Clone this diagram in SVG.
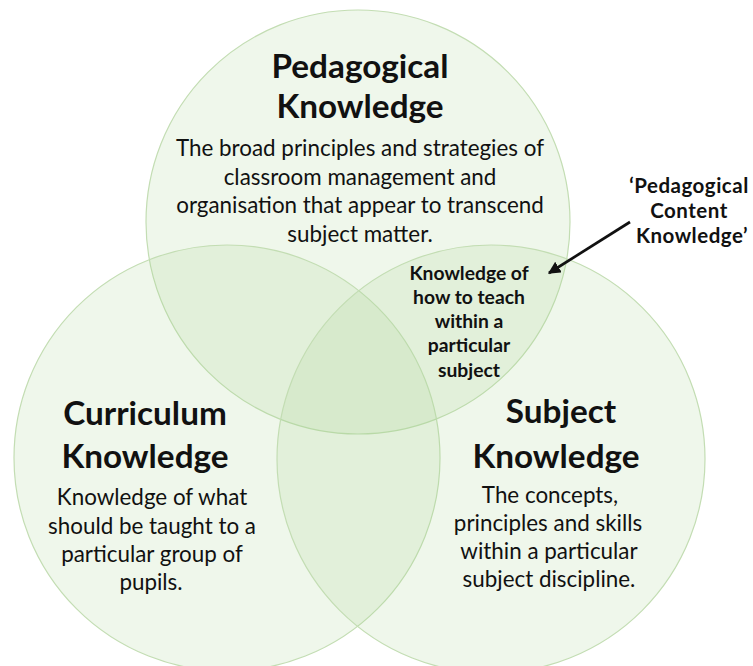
<svg xmlns="http://www.w3.org/2000/svg" width="753" height="666" viewBox="0 0 753 666">
  <style>
    .set { fill: #a9d18e; fill-opacity: 0.18; stroke: #c3ddb3; stroke-width: 1.2; }
    text { font-family: Lato, "Open Sans", sans-serif; fill: #111; text-anchor: middle; }
    .title { font-size: 33.3px; font-weight: bold; }
    .body { font-size: 22.4px; }
    .small { font-size: 19.3px; font-weight: bold; }
    .label { font-size: 20.5px; font-weight: bold; letter-spacing: 0.5px; }
    .link { stroke: #111; stroke-width: 2.7; fill: none; }
  </style>
  <defs>
    <marker id="head" viewBox="0 0 10 10" refX="9" refY="5" markerWidth="4.6" markerHeight="4.6" orient="auto" markerUnits="strokeWidth">
      <path d="M0,0 L10,5 L0,10 z" fill="#111"/>
    </marker>
  </defs>
  <rect width="753" height="666" fill="#ffffff"/>

  <g id="pedagogical">
    <circle class="set" cx="358" cy="222" r="212"/>
    <text class="title" x="360" y="78">Pedagogical</text>
    <text class="title" x="360" y="118">Knowledge</text>
    <text class="body" x="360" y="156">The broad principles and strategies of</text>
    <text class="body" x="360" y="185">classroom management and</text>
    <text class="body" x="360" y="213">organisation that appear to transcend</text>
    <text class="body" x="360" y="242">subject matter.</text>
  </g>

  <g id="curriculum">
    <circle class="set" cx="227" cy="458" r="213"/>
    <text class="title" x="145" y="425">Curriculum</text>
    <text class="title" x="145" y="468">Knowledge</text>
    <text class="body" x="152" y="505">Knowledge of what</text>
    <text class="body" x="152" y="534">should be taught to a</text>
    <text class="body" x="152" y="562">particular group of</text>
    <text class="body" x="151" y="590">pupils.</text>
  </g>

  <g id="subject">
    <circle class="set" cx="491" cy="459" r="214"/>
    <text class="title" x="561" y="423">Subject</text>
    <text class="title" x="556" y="468">Knowledge</text>
    <text class="body" x="550" y="503">The concepts,</text>
    <text class="body" x="548" y="531">principles and skills</text>
    <text class="body" x="549" y="559">within a particular</text>
    <text class="body" x="549" y="587">subject discipline.</text>
  </g>

  <g id="pck-region">
    <text class="small" x="469" y="280">Knowledge of</text>
    <text class="small" x="469" y="304">how to teach</text>
    <text class="small" x="469" y="328">within a</text>
    <text class="small" x="469" y="352">particular</text>
    <text class="small" x="469" y="377">subject</text>
  </g>

  <g id="pck-label">
    <text class="label" x="689" y="193">‘Pedagogical</text>
    <text class="label" x="689" y="218">Content</text>
    <text class="label" x="692" y="243">Knowledge’</text>
  </g>

  <g id="connectors">
    <line class="link" x1="630" y1="222" x2="549" y2="273" marker-end="url(#head)"/>
  </g>
</svg>
